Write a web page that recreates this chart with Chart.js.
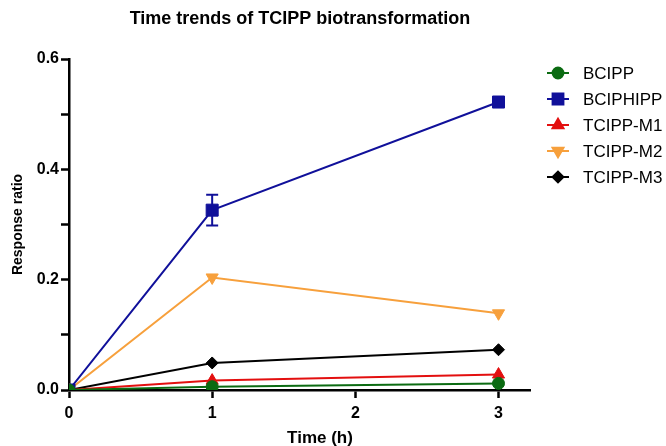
<!DOCTYPE html>
<html>
<head>
<meta charset="utf-8">
<script src="https://cdn.jsdelivr.net/npm/chart.js@4"></script>
<style>
  html, body { margin: 0; padding: 0; background: #fff; }
  #wrap { width: 666px; height: 446px; }
</style>
</head>
<body>
<div id="wrap"><canvas id="timeChart"></canvas></div>
<script>
var times = [0, 1, 3];
var xTicks = [0, 1, 2, 3];
var seriesNames = ['BCIPP', 'BCIPHIPP', 'TCIPP-M1', 'TCIPP-M2', 'TCIPP-M3'];
var bcipp = [0, 0.006, 0.012];
var bciphipp = [0, 0.326, 0.522];
var bciphippErr = [0, 0.028, 0];
var tcippM1 = [0, 0.017, 0.028];
var tcippM2 = [0, 0.204, 0.139];
var tcippM3 = [0, 0.049, 0.073];
var chartTitle = 'Time trends of TCIPP biotransformation';
var xTitle = 'Time (h)';

var FONT = "'Liberation Sans', Arial, sans-serif";

function pts(vals) {
    return vals.map(function (v, i) { return { x: times[i], y: v }; });
}

function makeSet(label, vals, color, style, radius, rotation) {
    return {
        label: label,
        data: pts(vals),
        borderColor: color,
        backgroundColor: color,
        borderWidth: 2,
        pointStyle: style,
        pointRadius: radius,
        pointRotation: rotation || 0,
        pointBorderWidth: 1,
        tension: 0
    };
}

// error bars for BCIPHIPP
var errorBars = {
    id: 'errorBars',
    afterDatasetsDraw: function (chart) {
        var ctx = chart.ctx;
        var xs = chart.scales.x, ys = chart.scales.y;
        ctx.save();
        ctx.strokeStyle = '#10109a';
        ctx.lineWidth = 2;
        bciphipp.forEach(function (v, i) {
            var e = bciphippErr[i];
            if (!e) return;
            var px = xs.getPixelForValue(times[i]);
            var top = ys.getPixelForValue(v + e);
            var bot = ys.getPixelForValue(v - e);
            ctx.beginPath();
            ctx.moveTo(px, top); ctx.lineTo(px, bot);
            ctx.moveTo(px - 6, top); ctx.lineTo(px + 6, top);
            ctx.moveTo(px - 6, bot); ctx.lineTo(px + 6, bot);
            ctx.stroke();
        });
        ctx.restore();
    }
};

// titles (placed like the original figure) and legend with line through marker
var lineLegend = {
    id: 'lineLegend',
    afterDraw: function (chart) {
        var ctx = chart.ctx;
        ctx.save();
        ctx.fillStyle = '#000';
        ctx.textAlign = 'center';
        ctx.textBaseline = 'middle';
        ctx.font = 'bold 18px ' + FONT;
        ctx.fillText(chartTitle, 300, 19);
        ctx.font = 'bold 17px ' + FONT;
        ctx.fillText(xTitle, 320, 438);

        var x0 = 547, y0 = 73, step = 26;
        chart.data.datasets.forEach(function (ds, i) {
            var y = y0 + i * step;
            ctx.strokeStyle = ds.borderColor;
            ctx.lineWidth = 2;
            ctx.beginPath();
            ctx.moveTo(x0, y); ctx.lineTo(x0 + 22, y);
            ctx.stroke();
            ctx.fillStyle = ds.backgroundColor;
            Chart.helpers.drawPoint(ctx, {
                pointStyle: ds.pointStyle,
                rotation: ds.pointRotation,
                radius: ds.pointRadius * 0.9,
                borderWidth: 1
            }, x0 + 11, y);
            ctx.fillStyle = '#000';
            ctx.font = '17px ' + FONT;
            ctx.textBaseline = 'middle';
            ctx.textAlign = 'left';
            ctx.fillText(ds.label, x0 + 36, y + 1);
        });
        ctx.restore();
    }
};

var ctx = document.getElementById('timeChart').getContext('2d');
var timeChart = new Chart(ctx, {
    type: 'line',
    data: {
        datasets: [
            makeSet(seriesNames[0], bcipp, '#0b6b12', 'circle', 6),
            makeSet(seriesNames[1], bciphipp, '#10109a', 'rect', 8.5),
            makeSet(seriesNames[2], tcippM1, '#e30f0f', 'triangle', 7),
            makeSet(seriesNames[3], tcippM2, '#f7a03c', 'triangle', 7, 180),
            makeSet(seriesNames[4], tcippM3, '#000000', 'rectRot', 6)
        ]
    },
    options: {
        responsive: true,
        maintainAspectRatio: false,
        animation: false,
        layout: { padding: { top: 59, right: 136, bottom: 0, left: 0 } },
        plugins: {
            legend: { display: false },
            tooltip: { enabled: false },
            title: { display: false }
        },
        scales: {
            x: {
                type: 'linear',
                min: 0,
                max: 3.22,
                afterBuildTicks: function (scale) {
                    scale.ticks = xTicks.map(function (v) { return { value: v }; });
                },
                afterFit: function (scale) { scale.height = 56; },
                border: { color: '#000', width: 2.5 },
                grid: { drawOnChartArea: false, tickLength: 8, tickColor: '#000', tickWidth: 2.5 },
                ticks: {
                    color: '#000',
                    padding: 6,
                    font: { family: FONT, size: 16, weight: 'bold' },
                    maxRotation: 0
                },
                title: { display: false }
            },
            y: {
                min: 0,
                max: 0.6,
                afterFit: function (scale) { scale.width = 69; },
                border: { color: '#000', width: 2.5 },
                grid: { drawOnChartArea: false, tickLength: 8, tickColor: '#000', tickWidth: 2.5 },
                ticks: {
                    stepSize: 0.1,
                    color: '#000',
                    padding: 2,
                    font: { family: FONT, size: 16, weight: 'bold' },
                    callback: function (v) {
                        var k = Math.round(v * 10);
                        return k % 2 === 0 ? (k / 10).toFixed(1) : '';
                    }
                },
                title: {
                    display: true,
                    text: 'Response ratio',
                    color: '#000',
                    font: { family: FONT, size: 14, weight: 'bold' },
                    padding: { top: 10, bottom: 0 }
                }
            }
        }
    },
    plugins: [errorBars, lineLegend]
});
</script>
</body>
</html>
